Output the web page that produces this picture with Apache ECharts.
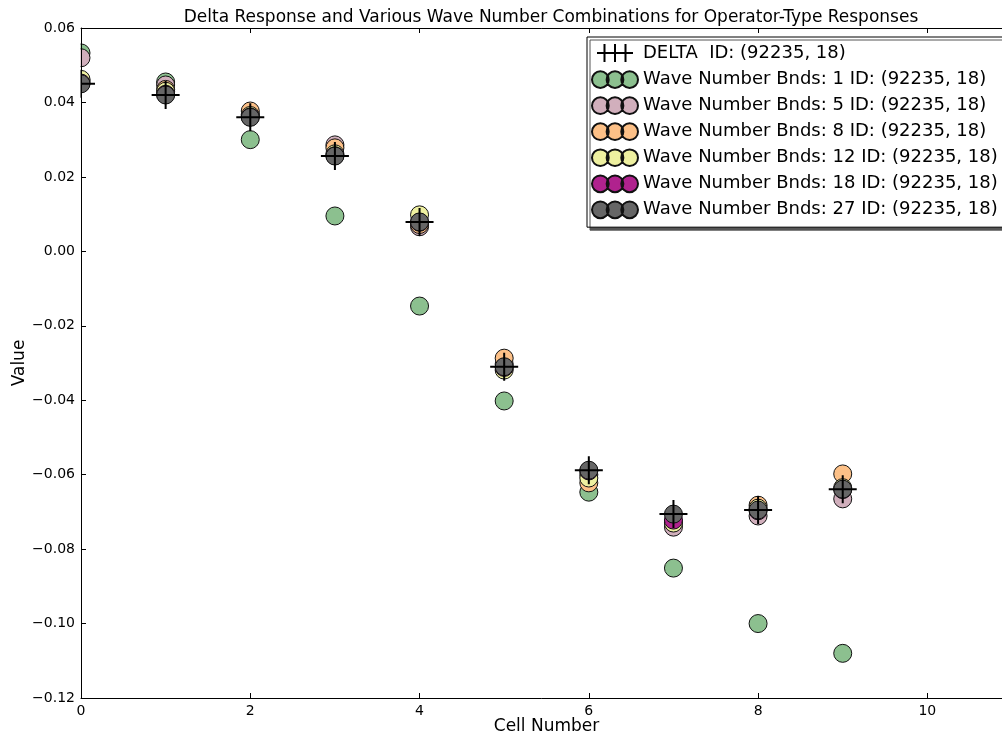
<!DOCTYPE html>
<html>
<head>
<meta charset="utf-8">
<script src="https://cdn.jsdelivr.net/npm/echarts@6/dist/echarts.min.js"></script>
<style>
  html, body { margin: 0; padding: 0; background: #fff; }
  #main { width: 1002px; height: 740px; }
</style>
</head>
<body>
<div id="main"></div>
<script>
// cell numbers
var cells = [0, 1, 2, 3, 4, 5, 6, 7, 8, 9];
// values
var deltaVals = [0.0450, 0.0420, 0.0360, 0.0256, 0.0079, -0.0310, -0.0588, -0.0706, -0.0695, -0.0639];
var wn1Vals  = [0.0533, 0.0455, 0.0300, 0.0095, -0.0147, -0.0402, -0.0647, -0.0851, -0.1000, -0.1080];
var wn5Vals  = [0.0520, 0.0447, 0.0368, 0.0286, 0.0066, -0.0303, -0.0600, -0.0741, -0.0711, -0.0665];
var wn8Vals  = [0.0458, 0.0435, 0.0377, 0.0278, 0.0072, -0.0287, -0.0622, -0.0728, -0.0682, -0.0598];
var wn12Vals = [0.0462, 0.0430, 0.0365, 0.0262, 0.0098, -0.0319, -0.0609, -0.0730, -0.0690, -0.0635];
var wn18Vals = [0.0452, 0.0422, 0.0361, 0.0257, 0.0078, -0.0312, -0.0590, -0.0722, -0.0697, -0.0640];
var wn27Vals = [0.0450, 0.0420, 0.0360, 0.0256, 0.0079, -0.0310, -0.0588, -0.0706, -0.0695, -0.0639];

var wnNames = ["1", "5", "8", "12", "18", "27"];
var wnData = [wn1Vals, wn5Vals, wn8Vals, wn12Vals, wn18Vals, wn27Vals];
var wnColors = ["#8cc08f", "#d1afbc", "#fcc087", "#eef0a0", "#b0228e", "#666666"];

var font = "DejaVu Sans";
var threeDots = "path://M1,9a8,8 0 1,0 16,0a8,8 0 1,0 -16,0M15,9a8,8 0 1,0 16,0a8,8 0 1,0 -16,0M29,9a8,8 0 1,0 16,0a8,8 0 1,0 -16,0";
var plusIcon = "path://M0,12L48,12M10,0L10,24M24,0L24,24M38,0L38,24";

function pairs(vals) {
  return vals.map(function (v, i) { return [cells[i], v]; });
}
function fmt(v) {
  var s = Math.abs(v).toFixed(2);
  return v < -1e-9 ? "\u2212" + s : s;
}

var deltaName = "DELTA  ID: (92235, 18)";
var series = [];
var legendData = [{ name: deltaName, icon: plusIcon }];
for (var k = 0; k < wnData.length; k++) {
  var nm = "Wave Number Bnds: " + wnNames[k] + " ID: (92235, 18)";
  legendData.push({ name: nm, icon: threeDots });
  series.push({
    name: nm,
    type: "scatter",
    data: pairs(wnData[k]),
    symbol: "circle",
    symbolSize: 18,
    clip: false,
    z: 2,
    itemStyle: { color: wnColors[k], borderColor: "#111", borderWidth: 1, opacity: 1 }
  });
}
series.push({
  name: deltaName,
  type: "scatter",
  data: pairs(deltaVals),
  symbol: "path://M0,14L28,14M14,0L14,28",
  symbolSize: 28,
  clip: false,
  z: 3,
  itemStyle: { color: "#000", borderColor: "#000", borderWidth: 2, opacity: 1 }
});

var myChart = echarts.init(document.getElementById("main"));
myChart.setOption({
  animation: false,
  backgroundColor: "#fff",
  textStyle: { fontFamily: font },
  title: {
    text: "Delta Response and Various Wave Number Combinations for Operator-Type Responses",
    left: 546,
    textAlign: "center",
    top: 4,
    textStyle: { fontFamily: font, fontSize: 17, fontWeight: "normal", color: "#000" }
  },
  legend: {
    orient: "vertical",
    left: 587,
    top: 37,
    data: legendData,
    itemWidth: 46,
    itemHeight: 18,
    itemGap: 7.3,
    padding: [6, 40, 8, 4],
    backgroundColor: "#fff",
    borderColor: "#000",
    borderWidth: 1,
    shadowColor: "#555",
    shadowOffsetX: 3,
    shadowOffsetY: 3,
    shadowBlur: 0,
    selectedMode: false,
    textStyle: { fontFamily: font, fontSize: 18, color: "#000" },
    z: 20
  },
  grid: { left: 81, right: -10, top: 28, bottom: 42, outerBoundsMode: "none", containLabel: false },
  xAxis: [
    {
      type: "value",
      min: 0,
      max: 11,
      interval: 2,
      name: "Cell Number",
      nameLocation: "middle",
      nameGap: 20,
      nameMoveOverlap: false,
      nameTextStyle: { fontFamily: font, fontSize: 17, color: "#000" },
      axisLine: { show: true, onZero: false, lineStyle: { color: "#000", width: 1 } },
      axisTick: { show: true, inside: true, length: 5, lineStyle: { color: "#000" } },
      axisLabel: { fontFamily: font, fontSize: 14, color: "#000", margin: 6, showMaxLabel: false },
      splitLine: { show: false },
      z: 10
    },
    {
      type: "value",
      position: "top",
      min: 0,
      max: 11,
      interval: 2,
      axisLine: { show: true, onZero: false, lineStyle: { color: "#000", width: 1 } },
      axisTick: { show: true, inside: true, length: 5, lineStyle: { color: "#000" } },
      axisLabel: { show: false },
      splitLine: { show: false },
      z: 10
    }
  ],
  yAxis: {
    type: "value",
    min: -0.12,
    max: 0.06,
    interval: 0.02,
    name: "Value",
    nameLocation: "middle",
    nameGap: 53,
    nameMoveOverlap: false,
    nameTextStyle: { fontFamily: font, fontSize: 17, color: "#000" },
    axisLine: { show: true, onZero: false, lineStyle: { color: "#000", width: 1 } },
    axisTick: { show: true, inside: true, length: 5, lineStyle: { color: "#000" } },
    axisLabel: { fontFamily: font, fontSize: 14, color: "#000", margin: 6, formatter: fmt },
    splitLine: { show: false },
    z: 10
  },
  // white mask left of the axes so the x=0 markers are cut like in the original
  graphic: [{
    type: "rect",
    left: 0,
    top: 0,
    shape: { width: 80.5, height: 740 },
    style: { fill: "#fff" },
    z: 5,
    silent: true
  }],
  series: series
});
</script>
</body>
</html>
